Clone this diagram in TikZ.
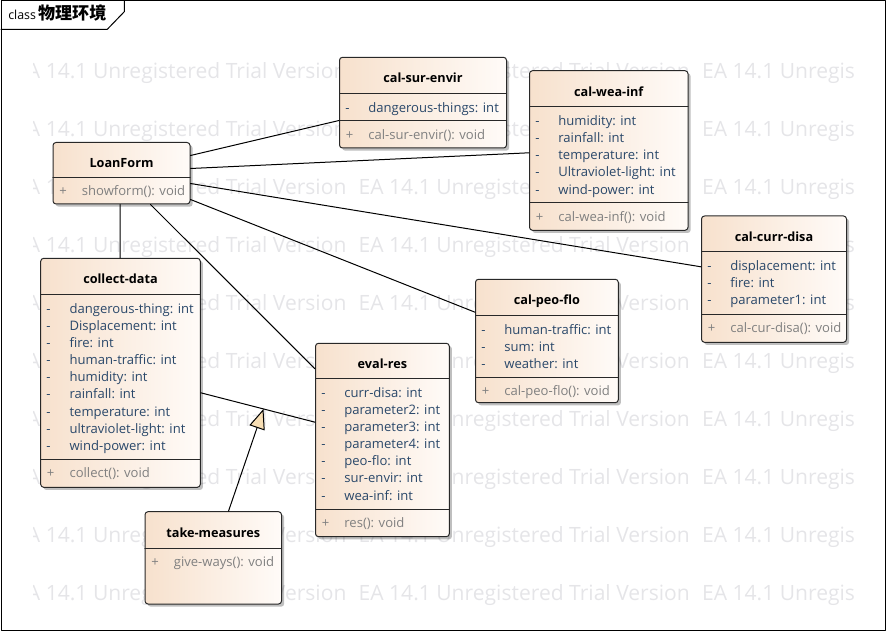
\documentclass[tikz,border=0pt]{standalone}
\usepackage{fontspec}
\setmainfont{Open Sans}
\newfontfamily\cjk{Noto Sans CJK SC}
\usetikzlibrary{calc,fit,shadows,arrows.meta}
\definecolor{attrblue}{RGB}{42,72,106}
\definecolor{opgray}{RGB}{128,128,128}
\definecolor{wmgray}{RGB}{229,229,232}
\definecolor{boxleft}{RGB}{247,225,205}
\definecolor{boxright}{RGB}{255,251,248}
\definecolor{gentan}{RGB}{247,222,180}
\definecolor{edgegray}{RGB}{40,40,40}

\newcommand{\umlclass}[9]{%
	\node[classbox, fit={(#2,#3) (#4,#5)}] (#1) {};
	\node[classtitle] (#1-title) at ({(#2+#4)/2},{(#3+#7)/2+7.7}) {#6};
	\draw[divider] (#2,#7) -- (#4,#7);
	\draw[divider] (#2,#8) -- (#4,#8);
	\node[opmark] (#1-plus) at ({#2+6},{#8+18.6}) {+};
	\node[optext] (#1-op) at ({#2+28.6},{#8+18.6}) {#9};
}
\newcommand{\umlattrs}[4]{%
	\foreach \a [count=\i] in {#4} {
		\node[attrmark] (#1-m\i) at ({#2+5.5},{#3+18.8+17.15*(\i-1)}) {-};
		\node[attrtext] (#1-a\i) at ({#2+28.6},{#3+18.8+17.15*(\i-1)}) {\a};
	}
}

\begin{document}
\begin{tikzpicture}[x=0.75pt, y=-0.75pt, font=\fontsize{9.8}{12}\selectfont, line join=round, line cap=round,
	classbox/.style={draw=edgegray, line width=0.75pt, rounded corners=2.25pt, left color=boxleft, right color=boxright, inner sep=0pt,
		drop shadow={shadow xshift=2pt, shadow yshift=-2pt, opacity=0.25, fill=black}},
	divider/.style={draw=edgegray, line width=0.75pt},
	classtitle/.style={anchor=base, font=\fontsize{9.5}{12}\selectfont\bfseries, inner sep=0pt},
	attrmark/.style={anchor=base west, text=attrblue, inner sep=0pt},
	attrtext/.style={anchor=base west, text=attrblue, inner sep=0pt},
	opmark/.style={anchor=base west, text=opgray, inner sep=0pt},
	optext/.style={anchor=base west, text=opgray, inner sep=0pt},
	assoc/.style={draw=black, line width=0.75pt},
	general/.style={assoc, -{Triangle[length=15pt, width=12pt, fill=gentan]}},
	watermark/.style={anchor=base west, text=wmgray, font=\fontsize{15.8}{18}\selectfont, inner sep=0pt},
	frame/.style={draw=black, line width=0.75pt}]
	\useasboundingbox (0,0) rectangle (886,631);
	\begin{scope}
		\clip (33,40) rectangle (854,620);
		\foreach \r in {0,...,9}
			\foreach \c in {0,1,2}
				\node[watermark] (wm-\r-\c) at ({15+343.4*\c},{78.7+58*\r}) {EA 14.1 Unregistered Trial Version};
	\end{scope}
	\draw[frame] (1,1) rectangle (885,630);
	\draw[frame] (1,29.3) -- (107.3,29.3) -- (124.3,11.7) -- (124.3,1);
	\node[anchor=base west, inner sep=0pt] (tab) at (8,19.5) {\fontsize{9.3}{11}\selectfont class\,{\cjk\fontsize{12.8}{14}\selectfont\bfseries 物理环境}};
	
	\umlclass{loanform}{53}{142.5}{190}{204}{LoanForm}{177.3}{177.3}{showform(): void}
	\umlclass{calsur}{339.5}{57.3}{506.5}{148}{cal-sur-envir}{93.3}{120.7}{cal-sur-envir(): void}
	\umlattrs{calsur}{339.5}{93.3}{dangerous-things: int}
	\umlclass{calwea}{529.5}{70.7}{688}{230.3}{cal-wea-inf}{106.7}{202.7}{cal-wea-inf(): void}
	\umlattrs{calwea}{529.5}{106.7}{humidity: int, rainfall: int, temperature: int, Ultraviolet-light: int, wind-power: int}
	\umlclass{calcurr}{701.5}{216}{846.5}{342.3}{cal-curr-disa}{251.7}{314.3}{cal-cur-disa(): void}
	\umlattrs{calcurr}{701.5}{251.7}{displacement: int, fire: int, parameter1: int}
	\umlclass{calpeo}{475.5}{279.3}{618.3}{402.7}{cal-peo-flo}{315.3}{377.3}{cal-peo-flo(): void}
	\umlattrs{calpeo}{475.5}{315.3}{human-traffic: int, sum: int, weather: int}
	\umlclass{collect}{40.7}{258.3}{200.3}{487.3}{collect-data}{294.3}{459.3}{collect(): void}
	\umlattrs{collect}{40.7}{294.3}{dangerous-thing: int, Displacement: int, fire: int, human-traffic: int, humidity: int, rainfall: int, temperature: int, ultraviolet-light: int, wind-power: int}
	\umlclass{evalres}{315.5}{343.3}{449.3}{536.7}{eval-res}{378.3}{509.3}{res(): void}
	\umlattrs{evalres}{315.5}{378.3}{curr-disa: int, parameter2: int, parameter3: int, parameter4: int, peo-flo: int, sur-envir: int, wea-inf: int}
	\umlclass{takem}{145}{511.7}{281.5}{604}{take-measures}{548}{548}{give-ways(): void}
	
	\draw[assoc] ($(loanform.north east)+(0,13.5)$) -- ($(calsur.north west)+(0,63.7)$);
	\draw[assoc] ($(loanform.north east)+(0,26.5)$) -- ($(calwea.north west)+(0,82.6)$);
	\draw[assoc] ($(loanform.north east)+(0,41.5)$) -- ($(calcurr.north west)+(0,51.3)$);
	\draw[assoc] ($(loanform.north east)+(0,57.5)$) -- ($(calpeo.north west)+(0,33.4)$);
	\draw[assoc] ($(loanform.south west)+(98,0)$) -- ($(evalres.north west)+(0,26)$);
	\draw[assoc] ($(loanform.south west)+(67.5,0)$) -- ($(collect.north west)+(79.8,0)$);
	\coordinate (cd-er-a) at ($(collect.north east)+(0,135)$);
	\coordinate (cd-er-b) at ($(evalres.north west)+(0,79.4)$);
	\draw[assoc] (cd-er-a) -- (cd-er-b);
	\coordinate (cd-er-mid) at ($(cd-er-a)!0.549!(cd-er-b)$);
	\draw[general] ($(takem.north west)+(84,0)$) -- (cd-er-mid);
\end{tikzpicture}
\end{document}
